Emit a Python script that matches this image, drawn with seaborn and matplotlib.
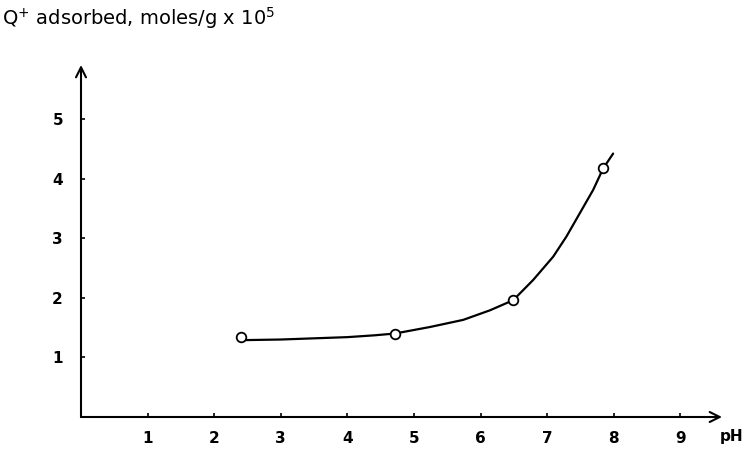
import matplotlib
matplotlib.use("Agg")
import matplotlib.pyplot as plt
import seaborn as sns
import pandas as pd

# measured points (open circles)
ph_points = [2.4, 4.71, 6.49, 7.84]
q_points = [1.35, 1.40, 1.96, 4.17]

# hand-drawn smooth curve
curve_ph = [2.45, 3.0, 3.5, 4.0, 4.4, 4.71, 5.24, 5.74, 6.14, 6.49,
            6.79, 7.09, 7.29, 7.49, 7.69, 7.84, 7.99]
curve_q = [1.29, 1.30, 1.32, 1.34, 1.37, 1.40, 1.51, 1.63, 1.79, 1.96,
           2.30, 2.69, 3.03, 3.42, 3.81, 4.17, 4.42]

x_ticks = [1, 2, 3, 4, 5, 6, 7, 8, 9]
y_ticks = [1, 2, 3, 4, 5]

title_text = r"Q$^{+}$ adsorbed, moles/g x 10$^{5}$"
x_label = "pH"

sns.set_theme(style="white")
plt.rcParams["font.family"] = ["DejaVu Sans"]

W, H = 744, 449
fig = plt.figure(figsize=(W / 100, H / 100), dpi=100)
x0, y0 = 81, 417       # origin pixel
x_end, y_end = 722, 65  # arrow tips
ax = fig.add_axes([x0 / W, (H - y0) / H, (x_end - x0) / W, (y0 - y_end) / H])
ax.set_xlim(0, (x_end - x0) / 66.6)
ax.set_ylim(0, (y0 - y_end) / 59.6)

curve_df = pd.DataFrame({"pH": curve_ph, "Q": curve_q})
pts_df = pd.DataFrame({"pH": ph_points, "Q": q_points})

sns.lineplot(data=curve_df, x="pH", y="Q", sort=False, color="black",
             linewidth=1.6, ax=ax, zorder=2)
sns.scatterplot(data=pts_df, x="pH", y="Q", marker="o", s=48,
                facecolor="white", edgecolor="black", linewidth=1.3,
                ax=ax, zorder=3)

for s in ax.spines.values():
    s.set_visible(False)

# axes with arrows
ax.annotate("", xy=(1, 0), xytext=(0, 0), xycoords="axes fraction",
            arrowprops=dict(arrowstyle="->", color="black", lw=1.5,
                            mutation_scale=18, shrinkA=0, shrinkB=0))
ax.annotate("", xy=(0, 1), xytext=(0, 0), xycoords="axes fraction",
            arrowprops=dict(arrowstyle="->", color="black", lw=1.5,
                            mutation_scale=18, shrinkA=0, shrinkB=0))

ax.set_xticks(x_ticks)
ax.set_yticks(y_ticks)
ax.set_xticklabels([str(t) for t in x_ticks])
ax.set_yticklabels([str(t) for t in y_ticks])
ax.tick_params(axis="both", direction="in", length=3, width=1.2, color="black",
               labelsize=11, labelcolor="black")
ax.tick_params(axis="x", pad=10, bottom=True)
ax.tick_params(axis="y", pad=13, left=True)
for lab in ax.get_xticklabels() + ax.get_yticklabels():
    lab.set_fontweight("bold")
ax.set_xlabel("")
ax.set_ylabel("")
ax.grid(False)

fig.text(743 / W, (H - 437) / H, x_label, fontsize=11, fontweight="bold",
         color="black", ha="right", va="center")
fig.text(2 / W, (H - 18) / H, title_text, fontsize=14, color="black",
         ha="left", va="center")

fig.savefig("out.png", dpi=100, facecolor="white")
